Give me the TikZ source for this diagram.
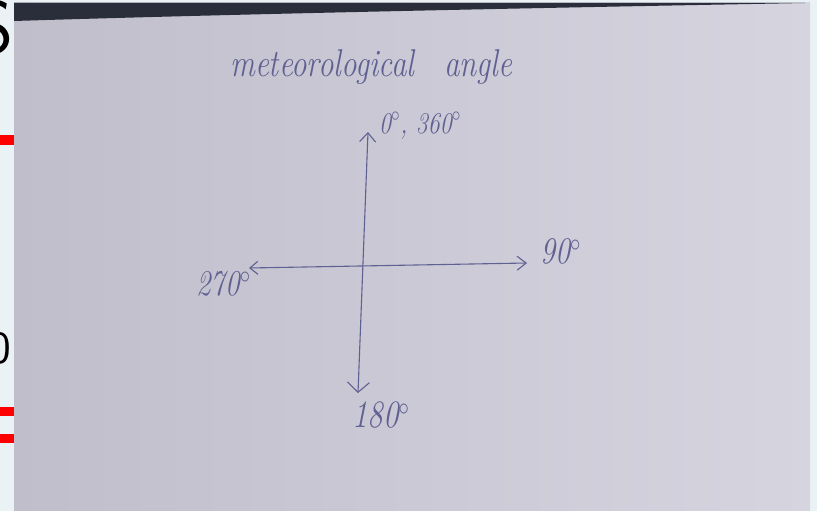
\documentclass[tikz,border=0pt]{standalone}
\usepackage{xcolor}
\usepackage{graphicx}
\usepackage{tikz}
\usetikzlibrary{arrows.meta}
\definecolor{pen}{RGB}{96,96,146}
\definecolor{strip}{RGB}{234,242,245}
\definecolor{paperL}{RGB}{192,190,203}
\definecolor{paperM}{RGB}{223,222,232}
\definecolor{paperR}{RGB}{213,212,223}
\definecolor{band}{RGB}{42,45,58}
\newcommand{\hand}[1]{\fontsize{#1}{#1}\selectfont\itshape}
\newcommand{\sfbig}[1]{\fontsize{#1}{#1}\selectfont\sffamily}
\newcommand{\tall}[1]{\scalebox{1}[1.25]{#1}}

\begin{document}
\begin{tikzpicture}[x=1pt,y=-1pt,
  lbl/.style={text=pen,inner sep=0pt},
  frag/.style={text=black,inner sep=0pt},
  axis/.style={draw=pen,line width=1.1pt,line cap=round}]
  \useasboundingbox (0,0) rectangle (817,511);
  \fill[strip] (0,0) rectangle (817,511);
  \node[frag,font=\sfbig{75}] (sfrag) at (-6,27) {S};
  \node[frag,font=\sfbig{46},anchor=east] (zfrag) at (11,348) {0};
  \fill[red] (0,135) rectangle (14,145);
  \fill[red] (0,407) rectangle (14,416);
  \fill[red] (0,434) rectangle (14,443);
  \shade[left color=paperL,middle color=paperM,right color=paperR] (14,3) rectangle (810,511);
  \fill[band] (14,3) -- (805,3) .. controls (700,5) and (300,12) .. (14,21) -- cycle;

  \node[lbl,font=\hand{31},anchor=base west] (title) at (230,77) {\tall{meteorological\hspace{30pt}angle}};

  \coordinate (N) at (368,132);
  \coordinate (S) at (358,393);
  \coordinate (W) at (249,268);
  \coordinate (E) at (527,263);
  \draw[axis,{Straight Barb[length=9pt,width=16pt]}-{Straight Barb[length=10pt,width=22pt]}] (N) -- (S);
  \draw[axis,{Straight Barb[length=8pt,width=13pt]}-{Straight Barb[length=9pt,width=14pt]}] (W) -- (E);

  \node[lbl,font=\hand{24},anchor=base west] (north) at (379,133) {\tall{0$^\circ$, 360$^\circ$}};
  \node[lbl,font=\hand{30},anchor=base west] (east) at (540,263) {\tall{90$^\circ$}};
  \node[lbl,font=\hand{29},anchor=base east] (west) at (251,295) {\tall{270$^\circ$}};
  \node[lbl,font=\hand{31},anchor=base west] (south) at (352,427) {\tall{180$^\circ$}};
\end{tikzpicture}
\end{document}
